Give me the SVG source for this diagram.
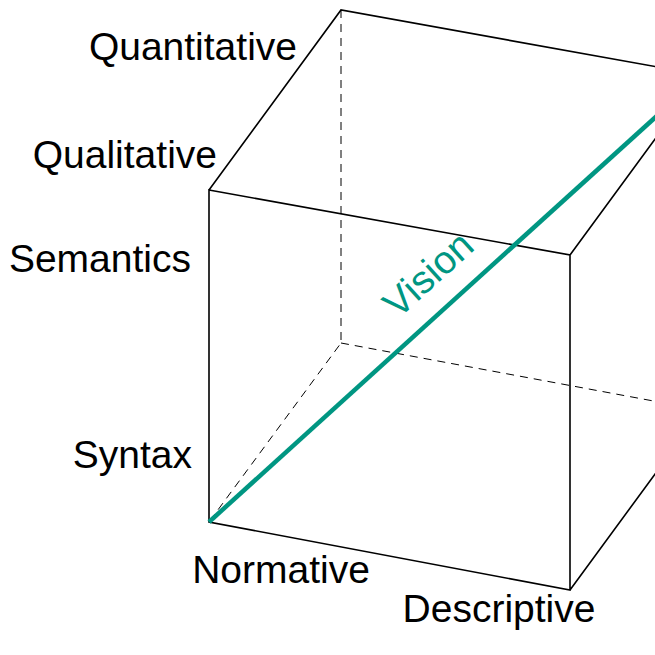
<svg xmlns="http://www.w3.org/2000/svg" width="655" height="655" viewBox="0 0 655 655">
<style>
.e{stroke:#000;stroke-width:1.6;fill:none}
.d{stroke:#000;stroke-width:1;stroke-dasharray:8,6;fill:none}
text{font-family:"Liberation Sans",Arial,sans-serif;font-size:39px;fill:#000}
</style>
<rect width="655" height="655" fill="#fff"/>
<g id="edges">
<path class="d" d="M341,10 L341,343 L209,522 M341,343 L702,410"/>
<path class="e" d="M209,190 L570,255 L570,590 L209,522 Z M209,190 L341,10 L702,75 L570,255 M570,590 L702,410 L702,75"/>
<path d="M209,522 L702,75" stroke="#009682" stroke-width="4.5" fill="none"/>
</g>
<g id="labels">
<text x="297" y="60" text-anchor="end">Quantitative</text>
<text x="217" y="168" text-anchor="end">Qualitative</text>
<text x="191" y="272" text-anchor="end">Semantics</text>
<text x="192" y="468" text-anchor="end">Syntax</text>
<text x="281" y="583" text-anchor="middle">Normative</text>
<text x="499" y="622" text-anchor="middle">Descriptive</text>
<text x="0" y="0" text-anchor="middle" fill="#009682" style="fill:#009682" transform="translate(437,284) rotate(-42.2)">Vision</text>
</g>
</svg>
